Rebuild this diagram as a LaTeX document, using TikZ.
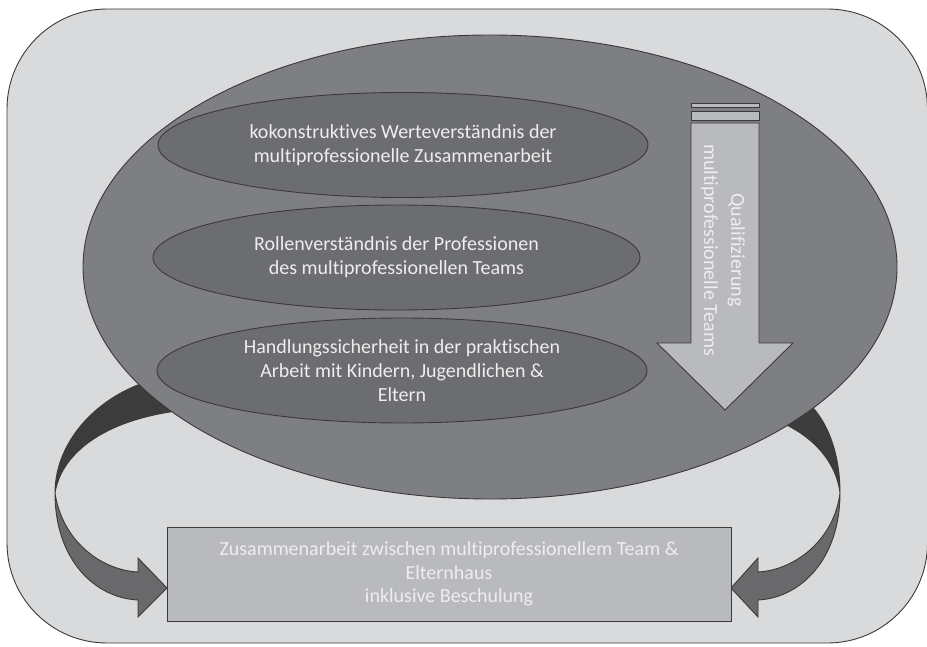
\documentclass[tikz,border=0pt]{standalone}
\usepackage{fontspec}
\setmainfont{Carlito}[Ligatures={NoCommon}]
\usepackage{xcolor}
\usepackage{tikz}
\usetikzlibrary{shapes.geometric}
\definecolor{framegray}{HTML}{D9DADB}
\definecolor{ellgray}{HTML}{7E7F83}
\definecolor{innergray}{HTML}{6C6D70}
\definecolor{boxgray}{HTML}{B9BABD}
\definecolor{ribbondark}{HTML}{3C3C3D}
\definecolor{ribbonlight}{HTML}{69696B}
\definecolor{edgegray}{HTML}{3A3A3B}
\definecolor{textwhite}{HTML}{EEEEEE}
\tikzset{
    outline/.style = {draw=edgegray, line width=0.9pt},
    frame/.style = {outline, fill=framegray, rounded corners=100pt},
    big node/.style = {shape=ellipse, outline, fill=ellgray, inner sep=0pt,
        minimum width=814pt, minimum height=464pt},
    inner node/.style = {shape=ellipse, outline, fill=innergray, inner sep=0pt,
        minimum width=490pt, minimum height=105pt, text=textwhite, align=center,
        font=\fontsize{20}{24}\selectfont},
    box node/.style = {shape=rectangle, outline, fill=boxgray, inner sep=0pt,
        minimum width=564pt, minimum height=94pt, text=textwhite, align=center,
        font=\fontsize{20}{23.5}\selectfont},
    down arrow/.style = {outline, fill=boxgray},
    arrow text/.style = {text=textwhite, align=center, font=\fontsize{20}{27}\selectfont},
    dark ribbon/.style = {outline, fill=ribbondark},
    light ribbon/.style = {outline, fill=ribbonlight}
}
\begin{document}
\begin{tikzpicture}[x=1pt, y=-1pt]
    \useasboundingbox (0,0) rectangle (927,647);
    \draw[frame] (7,9) rectangle (927.5,643);
    % ribbons, their upper ends lie under the big ellipse
    \draw[dark ribbon] (160,378) .. controls (100,392) and (55,440) .. (55,493)
        .. controls (62,450) and (110,418) .. (185,410) -- cycle;
    \draw[light ribbon] (55,493) .. controls (55,560) and (95,598) .. (138,600)
        -- (138,617) -- (167,588) -- (138,558) -- (138,572)
        .. controls (100,570) and (62,540) .. (55,493) -- cycle;
    \draw[dark ribbon] (795,393) .. controls (825,410) and (840,450) .. (840,493)
        .. controls (836,460) and (810,432) .. (770,418) -- cycle;
    \draw[light ribbon] (840,493) .. controls (840,560) and (800,598) .. (758,600)
        -- (758,617) -- (731,588) -- (758,558) -- (758,572)
        .. controls (795,570) and (834,540) .. (840,493) -- cycle;
    \node(main) [big node] at (490,267) {};
    \node(werte) [inner node] at (403,145) {kokonstruktives Werteverständnis der\\multiprofessionelle Zusammenarbeit};
    \node(rollen) [inner node, minimum width=487pt] at (396.5,257.5) {Rollenverständnis der Professionen\\des multiprofessionellen Teams};
    \node(handlung) [inner node] at (402,370.5) {Handlungssicherheit in der praktischen\\Arbeit mit Kindern, Jugendlichen \&\\Eltern};
    \draw[down arrow] (691,103) rectangle (759,107);
    \draw[down arrow] (691,111) rectangle (759,120);
    \draw[down arrow] (691,123) -- (759,123) -- (759,343) -- (793,343) -- (725,410)
        -- (657,343) -- (691,343) -- cycle;
    \node(quali) [arrow text, rotate=-90] at (723,250) {Qualifizierung\\multiprofessionelle Teams};
    \node(eltern) [box node] at (449,574) {Zusammenarbeit zwischen multiprofessionellem Team \&\\Elternhaus\\inklusive Beschulung};
\end{tikzpicture}
\end{document}
